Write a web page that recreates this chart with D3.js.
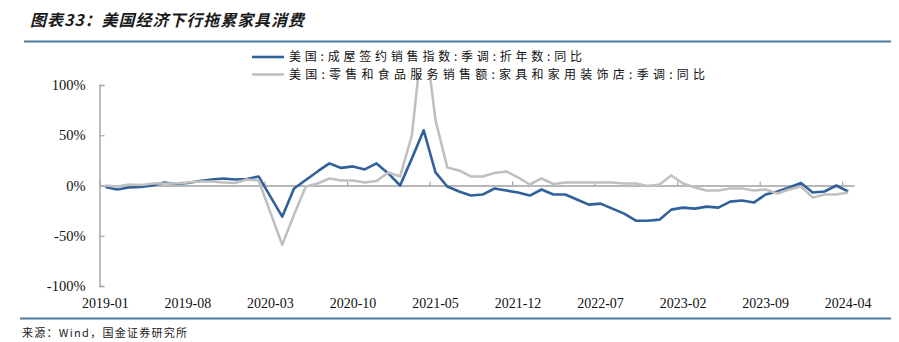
<!DOCTYPE html>
<html><head><meta charset="utf-8">
<script src="https://cdn.jsdelivr.net/npm/d3@7"></script>
<style>
html,body{margin:0;padding:0;background:#fff;}
svg{display:block;}
</style></head>
<body>
<svg id="chart" width="899" height="342"></svg>
<script>
const months = [
"2019-01","2019-02","2019-03","2019-04","2019-05","2019-06","2019-07","2019-08","2019-09","2019-10","2019-11","2019-12",
"2020-01","2020-02","2020-03","2020-04","2020-05","2020-06","2020-07","2020-08","2020-09","2020-10","2020-11","2020-12",
"2021-01","2021-02","2021-03","2021-04","2021-05","2021-06","2021-07","2021-08","2021-09","2021-10","2021-11","2021-12",
"2022-01","2022-02","2022-03","2022-04","2022-05","2022-06","2022-07","2022-08","2022-09","2022-10","2022-11","2022-12",
"2023-01","2023-02","2023-03","2023-04","2023-05","2023-06","2023-07","2023-08","2023-09","2023-10","2023-11","2023-12",
"2024-01","2024-02","2024-03","2024-04"];

const pendingHomeSales = [
-1.5,-4,-2,-1.5,0,3,1.5,2.5,4.5,6,7,6,
6.5,9,-11,-31,-3,5.5,14,22,17.5,19,16,22,
12,0,27,55,13,-1,-6,-10,-9,-3,-5,-7,
-10,-4,-9,-9,-14,-19,-18,-23,-28,-35,-35,-34,
-24,-22,-23,-21,-22,-16,-15,-17,-9,-6,-2,2.5,
-7,-6,0,-6];

const furnitureSales = [
0,-1,1,0.5,2,2,2,3,4,4,3,2.5,
6,5,-27,-59,-29,-1,2,7,5,5,3,4.5,
13,9,50,160,65,18,15,9,9,12.5,14,8,
1,7,1.5,3,3,3,3,3,2,2,-0.5,1,
10,2,-2,-5,-5,-3,-3,-5,-4,-8,-4,-1,
-12,-9,-9,-7];

const seriesNames = [
"美国:成屋签约销售指数:季调:折年数:同比",
"美国:零售和食品服务销售额:家具和家用装饰店:季调:同比"];
const seriesColors = ["#31619b", "#c0c0c0"];

const xTickLabels = ["2019-01","2019-08","2020-03","2020-10","2021-05","2021-12","2022-07","2023-02","2023-09","2024-04"];
const yTicks = [-100,-50,0,50,100];

const titleText = "图表33：美国经济下行拖累家具消费";
const sourceText = "来源：Wind，国金证券研究所";

const svg = d3.select("#chart");
const L = 99.5, R = 854, T = 85, B = 286;

const x = d3.scaleBand().domain(months).range([L, R]).paddingInner(0).paddingOuter(0);
const xIdx = d3.scaleLinear().domain([0, months.length]).range([L, R]);
const y = d3.scaleLinear().domain([-100, 100]).range([B, T]);

// title
svg.append("text").attr("x", 30).attr("y", 26)
  .attr("font-family", "'Noto Sans CJK SC', sans-serif")
  .attr("font-size", 16).attr("font-weight", 700).attr("font-style", "italic")
  .attr("fill", "#1a1a1a").attr("textLength", 274).attr("lengthAdjust", "spacing")
  .text(titleText);
svg.append("line").attr("x1", 24).attr("x2", 891).attr("y1", 41.5).attr("y2", 41.5)
  .attr("stroke", "#4a7b9d").attr("stroke-width", 2);
svg.append("line").attr("x1", 20).attr("x2", 891).attr("y1", 318.5).attr("y2", 318.5)
  .attr("stroke", "#4a7b9d").attr("stroke-width", 2);
svg.append("text").attr("x", 22).attr("y", 337)
  .attr("font-family", "'Noto Sans CJK SC', sans-serif")
  .attr("font-size", 11).attr("fill", "#222")
  .attr("textLength", 165).attr("lengthAdjust", "spacing")
  .text(sourceText);

// y axis
const yAxis = svg.append("g").attr("transform", `translate(${L},0)`)
  .call(d3.axisLeft(y).tickValues(yTicks).tickSize(-5).tickPadding(14).tickFormat(d => d + "%"));
yAxis.select(".domain").attr("stroke", "#a6a6a6").attr("stroke-width", 1.5);
yAxis.selectAll(".tick line").attr("stroke", "#a6a6a6").attr("stroke-width", 1.2);
yAxis.selectAll(".tick text").attr("font-family", "'Liberation Serif', 'Times New Roman', serif")
  .attr("font-size", 14.5).attr("fill", "#111");

// zero axis with boundary ticks
const boundaryTicks = xTickLabels.map(m => months.indexOf(m));
const zAxis = svg.append("g").attr("transform", `translate(0,${y(0)})`)
  .call(d3.axisBottom(xIdx).tickValues(boundaryTicks).tickSize(-4).tickSizeOuter(0).tickFormat(""));
zAxis.select(".domain").attr("stroke", "#a0a0a0").attr("stroke-width", 1.5);
zAxis.selectAll(".tick line").attr("stroke", "#a0a0a0").attr("stroke-width", 1.2);

// x labels
const xAxis = svg.append("g").attr("transform", `translate(0,${B + 9})`)
  .call(d3.axisBottom(x).tickValues(xTickLabels).tickSize(0).tickPadding(3));
xAxis.select(".domain").remove();
xAxis.selectAll(".tick text").attr("font-family", "'Liberation Serif', 'Times New Roman', serif")
  .attr("font-size", 14).attr("fill", "#111");

// clip
svg.append("clipPath").attr("id", "plotclip").append("rect")
  .attr("x", L).attr("y", 74).attr("width", R - L).attr("height", B - 74 + 2);

const line = d3.line().x((d, i) => x(months[i]) + x.bandwidth() / 2).y(d => y(d));
const plot = svg.append("g").attr("clip-path", "url(#plotclip)");
[pendingHomeSales, furnitureSales].forEach((s, k) => {
  plot.append("path").datum(s).attr("d", line)
    .attr("fill", "none").attr("stroke", seriesColors[k]).attr("stroke-width", 2.6)
    .attr("stroke-linejoin", "round");
});

// legend
const lg = svg.append("g");
seriesNames.forEach((n, k) => {
  const yy = 57 + k * 17.5;
  lg.append("line").attr("x1", 252).attr("x2", 284).attr("y1", yy).attr("y2", yy)
    .attr("stroke", seriesColors[k]).attr("stroke-width", 2.6);
  lg.append("text").attr("x", 289).attr("y", yy + 4.3)
    .attr("font-family", "'Noto Sans CJK SC', sans-serif").attr("font-size", 12)
    .attr("fill", "#111")
    .attr("textLength", k === 0 ? 293 : 416).attr("lengthAdjust", "spacing")
    .text(n);
});
</script>
</body></html>
